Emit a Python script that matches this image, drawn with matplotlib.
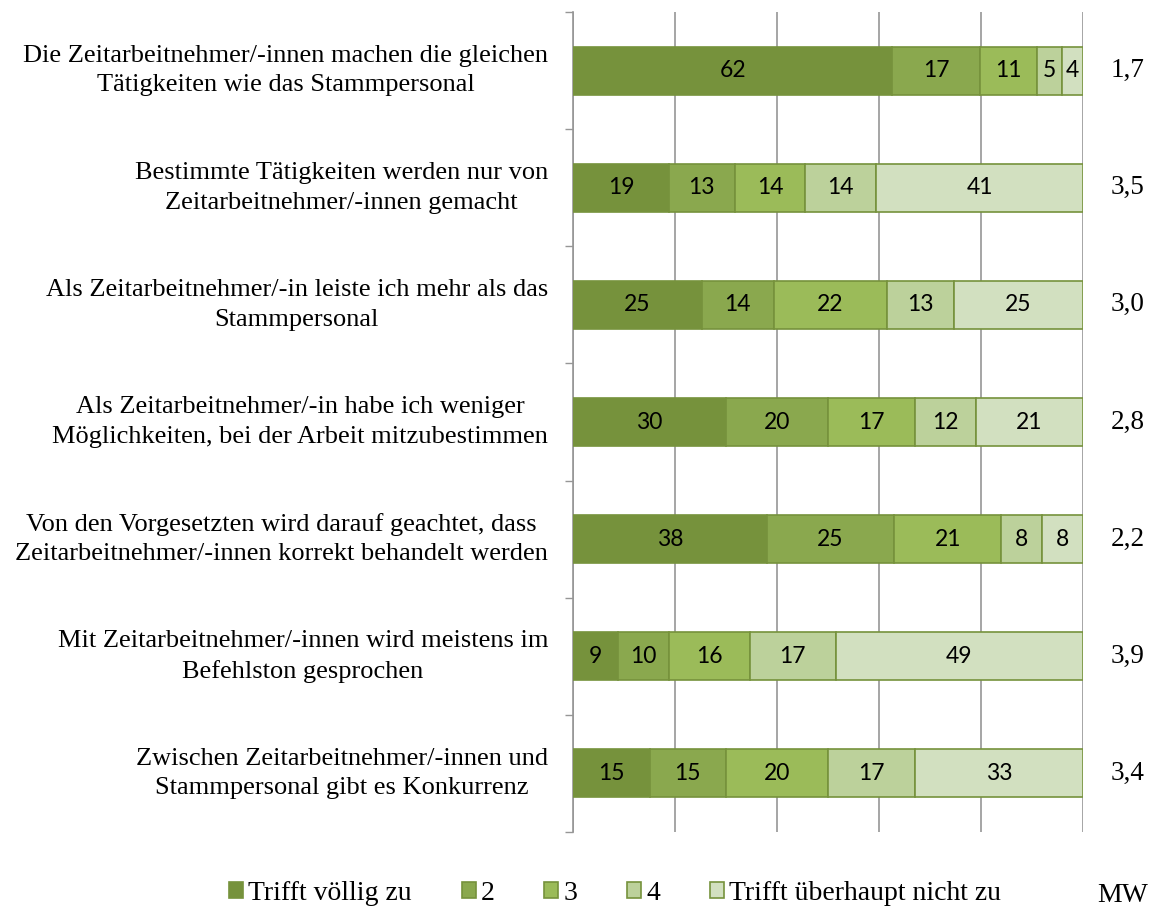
import matplotlib.pyplot as plt
import numpy as np

categories = [
    "Die Zeitarbeitnehmer/-innen machen die gleichen\nTätigkeiten wie das Stammpersonal",
    "Bestimmte Tätigkeiten werden nur von\nZeitarbeitnehmer/-innen gemacht",
    "Als Zeitarbeitnehmer/-in leiste ich mehr als das\nStammpersonal",
    "Als Zeitarbeitnehmer/-in habe ich weniger\nMöglichkeiten, bei der Arbeit mitzubestimmen",
    "Von den Vorgesetzten wird darauf geachtet, dass\nZeitarbeitnehmer/-innen korrekt behandelt werden",
    "Mit Zeitarbeitnehmer/-innen wird meistens im\nBefehlston gesprochen",
    "Zwischen Zeitarbeitnehmer/-innen und\nStammpersonal gibt es Konkurrenz",
]
series_names = ["Trifft völlig zu", "2", "3", "4", "Trifft überhaupt nicht zu"]
s1 = [62, 19, 25, 30, 38, 9, 15]
s2 = [17, 13, 14, 20, 25, 10, 15]
s3 = [11, 14, 22, 17, 21, 16, 20]
s4 = [5, 14, 13, 12, 8, 17, 17]
s5 = [4, 41, 25, 21, 8, 49, 33]
mw = ["1,7", "3,5", "3,0", "2,8", "2,2", "3,9", "3,4"]

colors = ["#76923C", "#8AA84E", "#9BBB59", "#BCD19B", "#D2E0C0"]
edge = "#76923C"

fig = plt.figure(figsize=(11.52, 9.10), dpi=100)
ax = fig.add_axes([573/1152, 1-832/910, 510/1152, 820/910])

data = np.array([s1, s2, s3, s4, s5], dtype=float)
totals = data.sum(axis=0)
pct = data / totals * 100
n = len(categories)
y = np.arange(n)
left = np.zeros(n)
for i in range(5):
    ax.barh(y, pct[i], left=left, height=0.41, color=colors[i], edgecolor=edge,
            linewidth=1.2, label=series_names[i], zorder=3)
    for j in range(n):
        ax.text(left[j] + pct[i][j]/2, y[j], f"{int(data[i][j])}", ha="center", va="center",
                fontsize=16.5, family="Lato", color="black", zorder=4)
    left += pct[i]

ax.set_xlim(0, 100)
ax.set_ylim(n - 0.5, -0.5)
ax.set_xticks(np.arange(0, 101, 20))
ax.xaxis.grid(True, color="#969696", linewidth=1.2, zorder=0)
ax.tick_params(axis="x", length=0, labelbottom=False)
ax.set_yticks(np.arange(-0.5, n, 1.0))
ax.set_yticklabels([])
ax.tick_params(axis="y", length=6, width=1.0, color="#969696", direction="out")
for j, c in enumerate(categories):
    ax.text(-0.049, j, c, transform=ax.get_yaxis_transform(), ha="right", va="center",
            multialignment="center", fontsize=19, family="Liberation Serif", linespacing=1.45)
    ax.text(1.088, j, mw[j], transform=ax.get_yaxis_transform(), ha="center", va="center",
            fontsize=19.5, family="Liberation Serif")
for s in ["top", "right", "bottom"]:
    ax.spines[s].set_visible(False)
ax.spines["left"].set_color("#969696")
ax.spines["left"].set_linewidth(1.2)

handles, labels = ax.get_legend_handles_labels()
leg = fig.legend(handles, labels, loc="center", bbox_to_anchor=(615/1152, 1-893/910), ncol=5,
                 frameon=False, prop={"family": "Liberation Serif", "size": 20},
                 handlelength=0.5, handleheight=0.5, handletextpad=0.18, columnspacing=1.8)
fig.text(1123/1152, 1-896/910, "MW", ha="center", va="center", fontsize=20, family="Liberation Serif")

fig.savefig("out.png", dpi=100)
